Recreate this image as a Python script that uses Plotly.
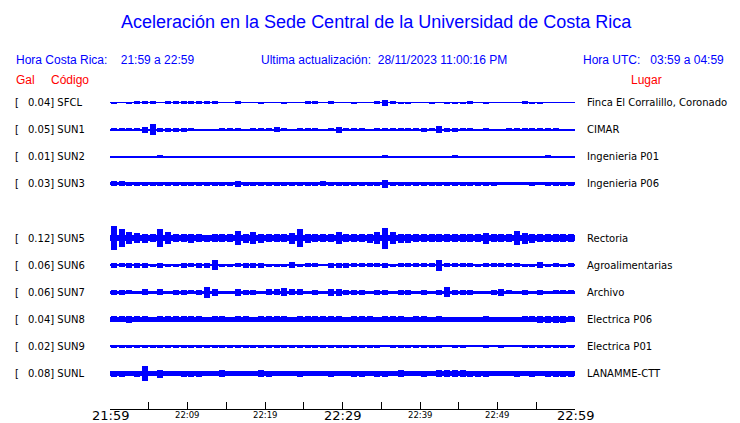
import plotly.graph_objects as go

# ---------------- data ----------------
codes = ["SFCL", "SUN1", "SUN2", "SUN3", "SUN5", "SUN6", "SUN7", "SUN8", "SUN9", "SUNL"]
gal_max = ["0.04", "0.05", "0.01", "0.03", "0.12", "0.06", "0.06", "0.04", "0.02", "0.08"]
places = ["Finca El Corralillo, Coronado", "CIMAR", "Ingenieria P01", "Ingenieria P06",
          "Rectoria", "Agroalimentarias", "Archivo", "Electrica P06", "Electrica P01", "LANAMME-CTT"]
# row slot of each station (slot 4 = SUN4, no data)
row_slot = [0, 1, 2, 3, 5, 6, 7, 8, 9, 10]

# background noise half-amplitude (relative units, 27 units = one row)
noise_floor = [0.5, 0.5, 0.5, 1.6, 3.2, 1.3, 1.6, 2.3, 0.9, 2.1]

# per-minute envelope half-amplitude (21:59 .. 22:59), same units
env_SFCL = [1, 0.5, 1, 1.5, 1.5, 1.5, 0.5, 1.5, 1.5, 1.5,
            1.5, 1.5, 1.5, 1.5, 0.5, 0.5, 1.5, 0.5, 0.5, 1,
            0.5, 0.5, 1, 0.5, 0.5, 1.5, 1.5, 0.5, 1.5, 0.5,
            0.5, 1, 0.5, 0.5, 1.5, 3, 1.5, 1, 1, 0.5,
            0.5, 1, 0.5, 1, 1, 1, 1.5, 0.5, 1, 0.5,
            0.5, 0.5, 0.5, 1.5, 1, 1, 0.5, 0.5, 0.5, 0.5]
env_SUN1 = [1.5, 1.5, 1.5, 1.5, 3, 5.5, 2, 2, 2, 2,
            1.5, 0.5, 1, 1, 1.5, 1.5, 1.5, 1, 1.5, 1.5,
            1.5, 2.5, 1.5, 1, 1.5, 1.5, 1.5, 1, 1.5, 3,
            1.5, 1.5, 1.5, 1, 1.5, 1.5, 1.5, 1.5, 1.5, 1.5,
            2, 1.5, 3.5, 2, 2, 1.5, 1.5, 1, 1.5, 0.5,
            1, 1.5, 1.5, 1.5, 1.5, 1.5, 1.5, 1.5, 0.5, 0.5]
env_SUN2 = [0.5, 1, 1, 0.5, 1, 0.5, 1.5, 0.5, 0.5, 0.5,
            0.5, 0.5, 0.5, 0.5, 1, 0.5, 0.5, 0.5, 0.5, 0.5,
            0.5, 0.5, 0.5, 0.5, 0.5, 0.5, 0.5, 0.5, 1, 0.5,
            1, 0.5, 0.5, 0.5, 1, 1.5, 0.5, 1, 0.5, 0.5,
            0.5, 0.5, 0.5, 0.5, 1.5, 0.5, 1, 0.5, 0.5, 0.5,
            0.5, 0.5, 0.5, 0.5, 0.5, 0.5, 1.5, 0.5, 0.5, 0.5]
env_SUN3 = [2.5, 2.5, 1.7, 1.7, 1.7, 1.7, 1.7, 1.7, 1.7, 1.7,
            1.7, 1.7, 1.7, 1.7, 1.7, 1.7, 3, 1.7, 1.7, 1.7,
            1.7, 1.7, 1.7, 1.7, 1.7, 1.7, 1.7, 2.5, 1.7, 1.7,
            1.7, 1.7, 1.7, 1.7, 1.7, 4, 1.7, 1.7, 1.7, 1.7,
            1.7, 1.7, 1.7, 1.7, 1.7, 1.7, 1.7, 1.7, 1.7, 1.7,
            1.5, 1.5, 1.5, 1.5, 1.7, 1.5, 1.7, 1.7, 1.7, 1.7]
env_SUN5 = [12, 9, 6, 5, 4.5, 4, 9, 6, 4, 4,
            4.5, 4, 3.5, 4, 4, 4, 7, 4.5, 6, 4.5,
            4, 4, 4, 5.5, 9, 4.5, 4, 4, 4, 6,
            4, 4, 4, 4.5, 6, 10.5, 6, 4.5, 4.5, 4,
            4, 4, 4, 4, 4, 4, 4, 4, 5.5, 4,
            4, 4, 7, 5.5, 4.5, 4, 4, 4, 4, 4]
env_SUN6 = [2.5, 2, 2.5, 2.5, 2.5, 1.5, 2.5, 1.5, 1.5, 2.5,
            2, 2.5, 2.5, 5.3, 1.5, 1.5, 2, 2.5, 2.5, 2.5,
            1.5, 1.5, 1.5, 3, 1.5, 2, 2, 1.3, 2.5, 2.5,
            2.5, 2, 2, 2, 2, 2.5, 1.5, 2, 2, 2,
            2, 2, 5.5, 2, 2, 2, 2, 1.5, 2, 2,
            2, 2, 2, 1.5, 1.5, 3, 1.5, 2, 1.5, 2]
env_SUN7 = [2.5, 2.5, 2, 1.7, 3, 1.7, 3, 1.7, 2.5, 2.5,
            2, 2.5, 5.3, 3.5, 1.7, 1.7, 3.5, 2.5, 2.5, 1.7,
            3, 3, 4, 3, 3, 1.7, 2.5, 1.7, 3.5, 3.5,
            2.5, 2.5, 2.5, 1.7, 2.5, 2.5, 1.7, 2.5, 2.5, 1.7,
            2.5, 1.7, 2.5, 5, 2.5, 2.5, 2.5, 1.7, 1.7, 2.5,
            3.5, 2, 1.7, 2.5, 1.7, 2.5, 1.7, 2, 2, 2]
env_SUN8 = [3, 3, 3.5, 3, 3, 2.5, 3, 3, 3, 3,
            3, 3, 2.5, 3, 3, 2.5, 3, 3, 2.5, 3,
            3, 3, 3, 2.5, 3, 3, 3, 3, 3, 3,
            2.5, 3, 3, 3, 2.5, 3, 3, 3, 2.5, 3,
            3, 2.5, 3, 2.5, 2.5, 2.5, 2.5, 2.5, 3, 2.5,
            2.5, 2.5, 2.5, 3, 3, 3.5, 3.5, 3.5, 3.5, 3]
env_SUN9 = [1.5, 1.5, 1.5, 1.2, 1.5, 1.5, 1.2, 1.5, 1.5, 1.5,
            1.2, 1.5, 1.5, 1.2, 1.5, 1.2, 1.5, 1.5, 1.2, 1.5,
            1.5, 1.2, 1.5, 1.5, 1.2, 1.5, 1.2, 1.5, 1.2, 1.5,
            1.5, 1.5, 1.2, 1.2, 1.2, 1, 1.2, 1.2, 1.2, 1.2,
            1.2, 1.2, 1.2, 1, 1.2, 1.2, 1, 1, 1.2, 1,
            1.2, 1, 1, 1.2, 1.2, 1.2, 1.2, 1.2, 1.2, 1.2]
env_SUNL = [3, 3, 2.5, 3, 7.5, 2.5, 4, 2.5, 2.5, 3,
            3, 3, 2.5, 2.5, 3.5, 2.5, 2.5, 2.5, 2.5, 3.5,
            3, 2.5, 2.5, 2.5, 3, 2.5, 2.5, 2.5, 3, 2.5,
            2.5, 3, 3, 2.5, 3, 3, 2.5, 3.5, 2.5, 2.5,
            3, 2.5, 3.5, 3.5, 3.5, 3.5, 3, 3, 3, 2.5,
            2.5, 2.5, 3, 2.5, 3, 2.5, 3, 3, 3, 3]
envelopes = [env_SFCL, env_SUN1, env_SUN2, env_SUN3, env_SUN5,
             env_SUN6, env_SUN7, env_SUN8, env_SUN9, env_SUNL]

tick_minutes = [0, 5, 10, 15, 20, 25, 30, 35, 40, 45, 50, 55, 60]
tick_labels = ["21:59", "", "22:09", "", "22:19", "", "22:29", "", "22:39", "", "22:49", "", "22:59"]
major_labels = ["21:59", "22:29", "22:59"]

title_text = "Aceleración en la Sede Central de la Universidad de Costa Rica"
hora_cr = "Hora Costa Rica:\u00a0\u00a0\u00a0 21:59 a 22:59"
actualizacion = "Ultima actualización:\u00a0 28/11/2023 11:00:16 PM"
hora_utc = "Hora UTC:\u00a0\u00a0 03:59 a 04:59"

# ---------------- layout helpers ----------------
W, H = 740, 423
L, R, T, B = 110, 575, 88, 409
ROW = 27.1
ROW0 = 102.5
AMP = 1.0 / 27.1
BLUE = "#0000ff"


def px(x):
    return (x - L) / (R - L)


def py(y):
    return (B - y) / (B - T)


y_top = (T - ROW0) / ROW
y_bot = (B - ROW0) / ROW

fig = go.Figure()
minutes = [i + 0.5 for i in range(60)]

for code, slot, floor, env in zip(codes, row_slot, noise_floor, envelopes):
    # noise floor band
    fig.add_trace(go.Bar(x=[30], y=[2 * floor * AMP], base=[slot - floor * AMP], width=[60],
                         marker=dict(color=BLUE, line=dict(width=0)), hoverinfo="skip",
                         showlegend=False))
    fig.add_trace(go.Scatter(x=[0, 60], y=[slot, slot], mode="lines",
                             line=dict(color=BLUE, width=1), hoverinfo="skip", showlegend=False))
    amps = [max(a, floor) for a in env]
    fig.add_trace(go.Bar(x=minutes, y=[2 * a * AMP for a in amps],
                         base=[slot - a * AMP for a in amps], width=0.8,
                         marker=dict(color=BLUE, line=dict(width=0)), name=code,
                         showlegend=False))

annotations = []
# title and header
annotations.append(dict(text=title_text, x=px(376), y=py(22), xref="paper", yref="paper",
                        showarrow=False, xanchor="center", yanchor="middle",
                        font=dict(family="Liberation Sans", size=18, color=BLUE)))
annotations.append(dict(text=hora_cr, x=px(14), y=py(60), xref="paper", yref="paper",
                        showarrow=False, xanchor="left", yanchor="middle",
                        font=dict(family="Liberation Sans", size=12, color=BLUE)))
annotations.append(dict(text=actualizacion, x=px(259), y=py(60), xref="paper", yref="paper",
                        showarrow=False, xanchor="left", yanchor="middle",
                        font=dict(family="Liberation Sans", size=12, color=BLUE)))
annotations.append(dict(text=hora_utc, x=px(726), y=py(60), xref="paper", yref="paper",
                        showarrow=False, xanchor="right", yanchor="middle",
                        font=dict(family="Liberation Sans", size=12, color=BLUE)))
annotations.append(dict(text="Gal", x=px(14), y=py(80), xref="paper", yref="paper",
                        showarrow=False, xanchor="left", yanchor="middle",
                        font=dict(family="Liberation Sans", size=12, color="#ff0000")))
annotations.append(dict(text="Código", x=px(49), y=py(80), xref="paper", yref="paper",
                        showarrow=False, xanchor="left", yanchor="middle",
                        font=dict(family="Liberation Sans", size=12, color="#ff0000")))
annotations.append(dict(text="Lugar", x=px(629), y=py(80), xref="paper", yref="paper",
                        showarrow=False, xanchor="left", yanchor="middle",
                        font=dict(family="Liberation Sans", size=12, color="#ff0000")))

# station labels
for code, g, place, slot in zip(codes, gal_max, places, row_slot):
    annotations.append(dict(text="[", x=px(13), y=slot, xref="paper", yref="y",
                            showarrow=False, xanchor="left", yanchor="middle",
                            font=dict(family="DejaVu Sans", size=10, color="black")))
    annotations.append(dict(text=f"{g}] {code}", x=px(26), y=slot, xref="paper", yref="y",
                            showarrow=False, xanchor="left", yanchor="middle",
                            font=dict(family="DejaVu Sans", size=10, color="black")))
    annotations.append(dict(text=place, x=px(585), y=slot, xref="paper", yref="y",
                            showarrow=False, xanchor="left", yanchor="middle",
                            font=dict(family="DejaVu Sans", size=10, color="black")))

# time axis labels
for m, lab in zip(tick_minutes, tick_labels):
    if not lab:
        continue
    big = lab in major_labels
    annotations.append(dict(text=lab, x=m, y=py(416 if big else 415), xref="x", yref="paper",
                            showarrow=False, xanchor="center", yanchor="middle",
                            font=dict(family="DejaVu Sans", size=13 if big else 8.5,
                                      color="black")))

fig.update_layout(
    width=W, height=H,
    margin=dict(l=L, r=W - R, t=T, b=H - B, pad=0),
    paper_bgcolor="white", plot_bgcolor="white",
    barmode="overlay", bargap=0,
    showlegend=False,
    annotations=annotations,
    font=dict(family="DejaVu Sans"),
    xaxis=dict(range=[0, 60], tickmode="array", tickvals=tick_minutes, ticktext=tick_labels,
               showticklabels=False, ticks="inside", ticklen=7, tickwidth=1, tickcolor="black",
               showline=True, linecolor="black", linewidth=1, showgrid=False, zeroline=False,
               fixedrange=True),
    yaxis=dict(range=[y_bot, y_top], visible=False, showgrid=False, zeroline=False,
               fixedrange=True),
)

fig.write_html("out.html", config={"displayModeBar": False},
               post_script="document.body.style.margin='0px';")
